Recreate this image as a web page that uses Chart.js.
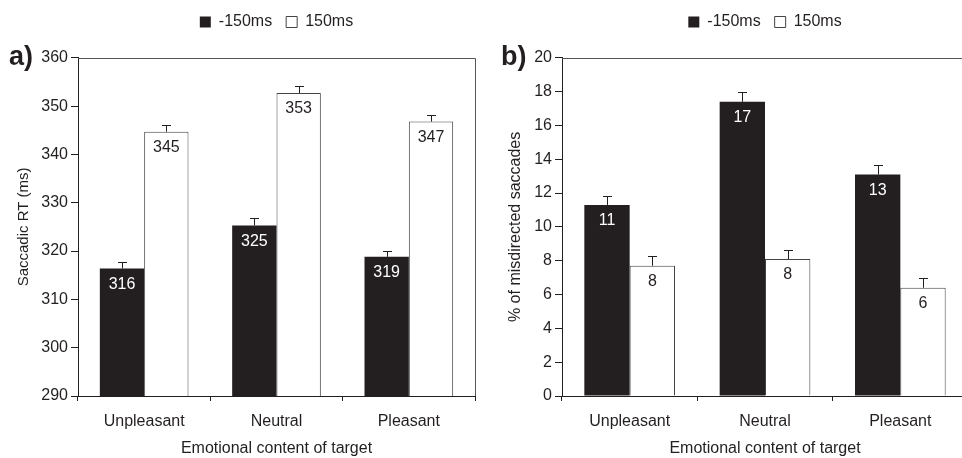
<!DOCTYPE html>
<html>
<head>
<meta charset="utf-8">
<script src="https://cdn.jsdelivr.net/npm/chart.js@4"></script>
<style>
  html, body { margin: 0; padding: 0; background: #fff; overflow: hidden; width: 962px; height: 458px; }
  #wrapA { position: absolute; left: 0; top: 0; width: 481px; height: 458px; }
  #wrapB { position: absolute; left: 481px; top: 0; width: 493px; height: 458px; }
</style>
</head>
<body>
<div id="wrapA"><canvas id="chartA"></canvas></div>
<div id="wrapB"><canvas id="chartB"></canvas></div>
<script>
// Categories and series
const categories = ['Unpleasant', 'Neutral', 'Pleasant'];
const seriesNames = ['-150ms', '150ms'];

// a) saccadic reaction times (ms) with standard errors
const rtEarly = [316.4, 325.3, 318.8];
const rtLate = [344.7, 352.7, 346.8];
const rtEarlyErr = [1.4, 1.6, 1.2];
const rtLateErr = [1.4, 1.4, 1.4];

// b) percentage of misdirected saccades with standard errors
const missEarly = [11.3, 17.4, 13.1];
const missLate = [7.7, 8.1, 6.4];
const missEarlyErr = [0.5, 0.57, 0.59];
const missLateErr = [0.57, 0.54, 0.59];

// axis ranges
const rtAxis = [290, 360, 10];
const missAxis = [0, 20, 2];

const INK = '#231f20';
const FONT = '"Liberation Sans", Arial, Helvetica, sans-serif';

// error whiskers (upper only) and value labels inside bars
const barExtras = {
  id: 'barExtras',
  afterDatasetsDraw(chart) {
    const ctx = chart.ctx;
    const yScale = chart.scales.y;
    chart.data.datasets.forEach((ds, di) => {
      const meta = chart.getDatasetMeta(di);
      meta.data.forEach((bar, i) => {
        const v = ds.data[i];
        const yTop = Math.round(yScale.getPixelForValue(v + ds.errors[i])) + 0.5;
        const x = Math.round(bar.x) + 0.5;
        ctx.save();
        ctx.strokeStyle = INK;
        ctx.lineWidth = 1;
        ctx.beginPath();
        ctx.moveTo(x, bar.y);
        ctx.lineTo(x, yTop);
        ctx.moveTo(x - 4.5, yTop);
        ctx.lineTo(x + 4.5, yTop);
        ctx.stroke();
        ctx.fillStyle = ds.labelColor;
        ctx.font = '16px ' + FONT;
        ctx.textAlign = 'center';
        ctx.textBaseline = 'middle';
        ctx.fillText(String(Math.round(v)), bar.x, bar.y + 16);
        ctx.restore();
      });
    });
  }
};

// top and right frame lines plus the panel letter
const panelFrame = {
  id: 'panelFrame',
  afterDraw(chart, args, opts) {
    const { ctx, chartArea: a } = chart;
    ctx.save();
    ctx.strokeStyle = '#555';
    ctx.lineWidth = 1;
    ctx.beginPath();
    ctx.moveTo(a.left, Math.round(a.top) + 0.5);
    ctx.lineTo(Math.round(a.right) + 0.5, Math.round(a.top) + 0.5);
    ctx.lineTo(Math.round(a.right) + 0.5, a.bottom);
    ctx.stroke();
    ctx.fillStyle = INK;
    ctx.font = 'bold 27px ' + FONT;
    ctx.textAlign = 'left';
    ctx.textBaseline = 'middle';
    ctx.fillText(opts.letter, opts.x, a.top);
    ctx.restore();
  }
};

function makeChart(canvasId, early, late, earlyErr, lateErr, axis, yTitle, letter, letterX, axisWidth, titlePad, titleSize) {
  return new Chart(document.getElementById(canvasId), {
    type: 'bar',
    data: {
      labels: categories,
      datasets: [
        { label: seriesNames[0], data: early, errors: earlyErr, labelColor: '#fff',
          backgroundColor: INK, borderColor: INK, borderWidth: 0 },
        { label: seriesNames[1], data: late, errors: lateErr, labelColor: INK,
          backgroundColor: '#fff', borderColor: '#444', borderWidth: 1 }
      ]
    },
    options: {
      responsive: true,
      maintainAspectRatio: false,
      animation: false,
      layout: { padding: { left: 0, right: 6, top: 0, bottom: 0 } },
      datasets: { bar: { categoryPercentage: 0.67, barPercentage: 1.0 } },
      plugins: {
        legend: {
          display: true,
          position: 'top',
          fullSize: false,
          labels: {
            boxWidth: 11, boxHeight: 11, padding: 14,
            color: INK, font: { family: FONT, size: 16 }
          }
        },
        title: { display: true, text: '', weight: 500, font: { size: 1 }, padding: { top: 16.6, bottom: 0 } },
        tooltip: { enabled: false },
        panelFrame: { letter: letter, x: letterX }
      },
      scales: {
        x: {
          grid: { display: true, drawOnChartArea: false, drawTicks: true, tickLength: 5, color: INK },
          border: { color: INK, width: 1 },
          ticks: { color: INK, font: { family: FONT, size: 16 }, padding: 11 },
          title: { display: true, text: 'Emotional content of target', color: INK,
                   font: { family: FONT, size: 16 }, padding: { top: 0, bottom: 0 } },
          afterFit(scale) { scale.height = 62; }
        },
        y: {
          min: axis[0], max: axis[1],
          grid: { display: true, drawOnChartArea: false, drawTicks: true, tickLength: 7, color: INK },
          border: { color: INK, width: 1 },
          ticks: { stepSize: axis[2], color: INK, font: { family: FONT, size: 16 }, padding: 3 },
          title: { display: true, text: yTitle, color: INK,
                   font: { family: FONT, size: titleSize }, padding: { top: titlePad, bottom: 0 } },
          afterFit(scale) { scale.width = axisWidth; }
        }
      }
    },
    plugins: [barExtras, panelFrame]
  });
}

makeChart('chartA', rtEarly, rtLate, rtEarlyErr, rtLateErr, rtAxis,
  'Saccadic RT (ms)', 'a)', 9, 78, 15, 15);
makeChart('chartB', missEarly, missLate, missEarlyErr, missLateErr, missAxis,
  '% of misdirected saccades', 'b)', 20, 81, 25, 16);
</script>
</body>
</html>
